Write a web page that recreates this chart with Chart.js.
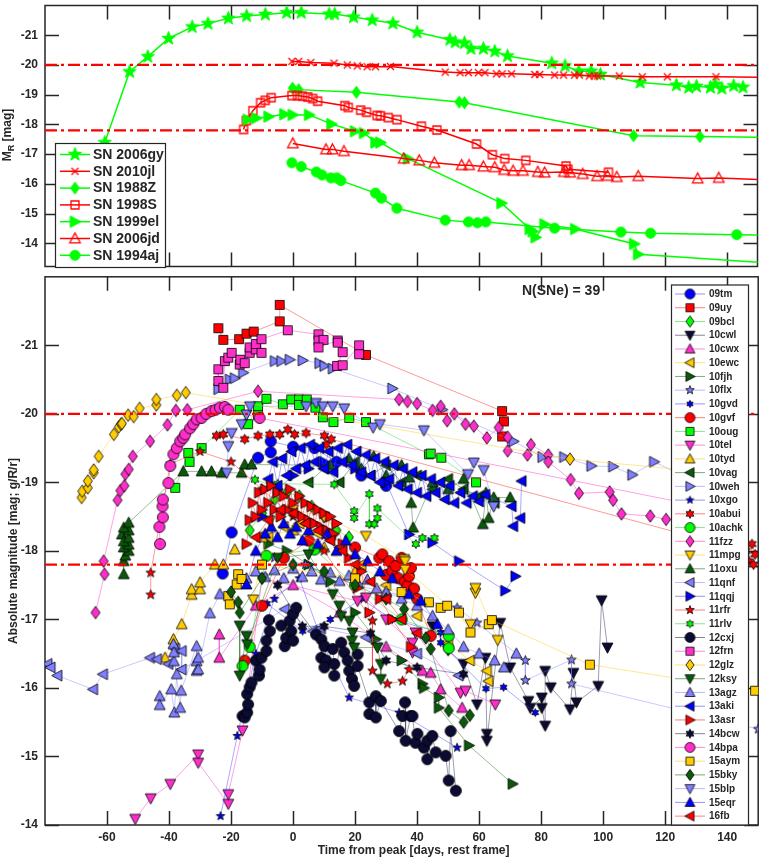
<!DOCTYPE html>
<html>
<head>
<meta charset="utf-8">
<script src="https://cdn.jsdelivr.net/npm/chart.js@4.4.1/dist/chart.umd.min.js"></script>
<style>
html, body { margin: 0; padding: 0; background: #fff; }
#wrap { position: relative; width: 763px; height: 860px; }
canvas { position: absolute; left: 0; }
</style>
</head>
<body>
<div id="wrap">
  <canvas id="topChart" width="763" height="272" style="top:0;width:763px;height:272px"></canvas>
  <canvas id="botChart" width="763" height="588" style="top:272px;width:763px;height:588px"></canvas>
</div>
<script>
// ---- axes ----
const xTicks = [-60, -40, -20, 0, 20, 40, 60, 80, 100, 120, 140];
const yTicks = [-21, -20, -19, -18, -17, -16, -15, -14];
const refMags = [-20, -17.8];

// ---- top panel: comparison SNe [day, mag] ----
const topNames = ['SN 2006gy', 'SN 2010jl', 'SN 1988Z', 'SN 1998S', 'SN 1999el', 'SN 2006jd', 'SN 1994aj'];
const sn2006gy = [[-60.7,-17.39],[-52.7,-19.77],[-46.8,-20.28],[-40.1,-20.89],[-32.5,-21.28],[-27.4,-21.39],[-20.8,-21.57],[-14.9,-21.65],[-8.9,-21.70],[-2.0,-21.76],[2.7,-21.76],[11.7,-21.71],[13.5,-21.71],[19.6,-21.61],[25.6,-21.51],[32.3,-21.40],[40.1,-21.10],[50.7,-20.85],[52.4,-20.77],[55.4,-20.74],[57.5,-20.55],[61.5,-20.55],[65.2,-20.46],[69.3,-20.30],[83.6,-20.06],[87.9,-19.97],[92.3,-19.79],[96.3,-19.79],[99.3,-19.68],[112.1,-19.41],[123.8,-19.32],[127.8,-19.24],[130.3,-19.28],[134.8,-19.24],[136.4,-19.35],[138.5,-19.21],[142.3,-19.30],[145.3,-19.25]];
const sn2010jl = [[-0.3,-20.12],[1.9,-20.12],[5.8,-20.08],[13.3,-20.06],[17.6,-20.0],[20.8,-19.97],[24.0,-19.94],[26.7,-19.94],[31.5,-19.95],[49.2,-19.76],[54,-19.74],[56.7,-19.74],[59.9,-19.74],[62.0,-19.74],[65.7,-19.70],[67.6,-19.70],[70.6,-19.70],[78.1,-19.68],[79.7,-19.68],[84.5,-19.66],[87.4,-19.66],[90.9,-19.66],[92.5,-19.66],[95.7,-19.63],[97.3,-19.63],[98.4,-19.63],[105.4,-19.63],[112.8,-19.60],[120.9,-19.60],[136.6,-19.60],[170,-19.57]];
const sn1988Z = [[-0.1,-19.22],[1.9,-19.17],[20.5,-19.08],[53.7,-18.75],[55.4,-18.73],[110,-17.62],[131.4,-17.59],[170,-17.54]];
const sn1998S = [[-15.9,-17.83],[-15.0,-18.13],[-12.9,-18.46],[-10.4,-18.73],[-8.9,-18.81],[-7.0,-18.90],[-0.3,-18.97],[1.5,-18.97],[3.1,-18.95],[4.8,-18.92],[6.4,-18.87],[8.0,-18.78],[16.8,-18.63],[17.9,-18.57],[21.9,-18.48],[23.8,-18.41],[27.2,-18.30],[28.3,-18.29],[30.8,-18.23],[33.6,-18.16],[41.5,-17.94],[46.5,-17.81],[59.3,-17.34],[64.4,-16.98],[68.4,-16.85],[75.2,-16.79],[88.2,-16.60],[88.8,-16.49],[101.9,-16.39]];
const sn1999el = [[-14.5,-18.16],[-11.8,-18.21],[-7.8,-18.26],[-2.7,-18.34],[0,-18.32],[5.3,-18.32],[12.5,-18.01],[20.1,-17.77],[23.0,-17.71],[26.7,-17.39],[28.3,-17.39],[37.2,-16.85],[67.4,-15.35],[76.5,-14.48],[77.5,-14.40],[78.4,-14.20],[81.3,-14.64],[91.2,-14.48],[110.2,-13.98],[111.5,-13.63],[170,-13.23]];
const sn2006jd = [[0,-17.36],[10.7,-17.16],[12.8,-17.16],[16.5,-17.10],[35.8,-16.85],[40.8,-16.79],[45.7,-16.71],[54.5,-16.63],[56.9,-16.63],[61.5,-16.58],[65.2,-16.56],[68.2,-16.47],[71.1,-16.44],[74.3,-16.44],[79.1,-16.40],[81.3,-16.38],[87.5,-16.40],[89.5,-16.38],[93.6,-16.33],[98.2,-16.26],[101.6,-16.27],[104.6,-16.23],[111.5,-16.26],[130.7,-16.18],[137.5,-16.20],[170,-16.06]];
const sn1994aj = [[-0.3,-16.71],[2.7,-16.58],[7.6,-16.40],[9.4,-16.30],[12.3,-16.20],[14.2,-16.20],[15.5,-16.11],[26.7,-15.69],[28.6,-15.52],[33.6,-15.18],[49.2,-14.78],[56.7,-14.72],[59.6,-14.69],[62.3,-14.72],[84.5,-14.51],[105.9,-14.38],[115.5,-14.34],[143.3,-14.29],[170,-14.26]];
const topData = [sn2006gy, sn2010jl, sn1988Z, sn1998S, sn1999el, sn2006jd, sn1994aj];

// ---- bottom panel: sample SNe [day, mag] ----
const botNames = ['09tm','09uy','09bcl','10cwl','10cwx','10ewc','10fjh','10flx','10gvd','10gvf','10oug','10tel','10tyd','10vag','10weh','10xgo','10abui','10achk','11fzz','11mpg','11oxu','11qnf','11qqj','11rfr','11rlv','12cxj','12frn','12glz','12ksy','13agz','13aki','13asr','14bcw','14bpa','15aym','15bky','15blp','15eqr','16fb'];
const d09tm = [[-22.7,-17.67],[-19.8,-18.27],[-11.3,-19.36],[-7.2,-19.44],[-7.2,-19.6],[0,-19.52],[6.9,-19.5],[14,-19.3],[22,-19.1],[30,-18.95]];
const d09uy = [[-24.1,-21.25],[-22.5,-21.08],[-17.4,-21.09],[-15,-21.17],[-12.7,-21.2],[-4.3,-21.35],[-4.3,-21.59],[23.5,-20.86],[67.4,-20.04],[68,-19.89],[67.4,-19.67]];
const d09bcl = [[-14,-18.3],[-10,-18.55],[-6,-18.75],[-2,-18.85],[2,-18.8],[6,-18.65],[10,-18.5],[14,-18.3],[18,-18.2]];
const d10cwl = [[45,-16.9],[50,-16.55],[55,-16.35],[59.3,-15.76],[62,-16.44],[62.5,-15.33],[62.5,-15.23],[66.8,-16.95],[70,-16.3],[75.9,-15.81],[76.5,-15.71],[80.2,-15.86],[80.2,-15.71],[81.3,-15.45],[81.3,-16.25],[83.1,-16.01],[89.3,-15.69],[90.4,-16.22],[91.4,-15.79],[98.4,-16.03],[99.5,-17.28],[101.4,-16.59]];
const d10cwx = [[-23.8,-16.78],[-23.8,-16.44],[-12,-17.2],[0,-17.5],[15,-17.1],[30,-16.6],[41.7,-16.25],[44.4,-16.22],[47.6,-15.98],[54.5,-15.71]];
const d10ewc = [[-8,-18.2],[-3,-18.35],[2,-18.4],[8,-18.25],[15,-18.05],[22,-17.8],[30,-17.5],[40,-17.05],[50,-16.65],[57,-16.4],[62.5,-16.25],[63,-16.1]];
const d10fjh = [[-8,-18.1],[-2,-18.0],[5,-17.8],[12,-17.55],[20,-17.1],[26.7,-16.71],[35,-16.4],[41.7,-16.06],[42.2,-16.0],[47,-15.86],[47,-15.71],[56.7,-15.16],[70.8,-14.6]];
const d10flx = [[-6,-17.9],[4,-17.8],[20,-17.5],[40,-17.3],[52.9,-17.17],[59.3,-16.95],[74.9,-16.4],[74.9,-16.11],[89.8,-16.41],[89.8,-16.06],[150,-15.4]];
const d10gvd = [[-8.4,-17.23],[3.1,-16.83],[12,-17.0],[22,-17.3],[32,-17.0],[47.6,-16.81],[47.6,-16.66],[62.2,-15.99],[67.9,-16.01],[78.1,-15.64]];
const d10gvf = [[-15.6,-16.4],[-10,-17.2],[-3,-17.9],[5,-18.15],[12,-18.2],[20,-18.05],[27.8,-17.9],[28.8,-17.95],[30,-17.65],[31,-17.85],[32,-17.71],[33.1,-17.78],[34,-17.6],[35,-17.9],[36,-17.55],[36.9,-17.49],[37.4,-17.63],[38,-17.75],[39,-17.45],[40,-17.3],[44.4,-16.76]];
const d10oug = [[-38,-18.92],[-33.8,-19.43],[-33.4,-19.3],[-29.5,-19.5],[-17.2,-20.06],[-14.5,-19.85],[-11.3,-20.11],[-11.3,-19.98],[-8.6,-20.22],[-3.3,-20.14],[-0.6,-20.21],[1.9,-20.21],[1.9,-20.13],[4.4,-20.21],[7.2,-20.09],[9.6,-19.95],[13,-19.88],[18.1,-19.94],[23.5,-19.88],[43.8,-19.41],[44.4,-19.42],[47.8,-19.36],[59,-19.0]];
const d10tel = [[-50.9,-14.09],[-45.9,-14.39],[-39.6,-14.6],[-30.6,-15.03],[-30.6,-14.91],[-20.9,-14.31],[-20.9,-14.45],[-16.3,-15.38],[-10,-17.6],[20.8,-17.27],[23.5,-17.32],[30,-17.0],[38.5,-16.66],[38.5,-16.52],[39.5,-16.81],[54,-15.93],[55.6,-15.96],[65.2,-15.76]];
const d10tyd = [[-41.3,-16.44],[-38.6,-16.71],[-35.9,-16.93],[-32.7,-17.36],[-32.7,-17.44],[-30,-17.44],[-30,-17.54],[-25.2,-17.8],[-22.5,-17.8],[-18.8,-18.02],[-10,-18.2],[0,-18.3],[10,-18.05],[20,-17.7],[30,-17.4]];
const d10vag = [[5,-19.0],[10,-19.2],[15,-19.0],[20,-19.3],[25,-19.1],[30,-19.25],[35,-19.0],[40,-19.1],[45,-18.9],[50,-19.05],[55,-18.9],[60,-18.8],[65,-18.7]];
const d10weh = [[-24.1,-20.36],[-20.4,-20.5],[-18.8,-20.52],[-16.1,-20.6],[-5.9,-20.77],[-3.8,-20.77],[-1.1,-20.79],[3.1,-20.78],[8.5,-20.74],[10.1,-20.7],[12.8,-20.66],[32,-20.37],[48.1,-20.06],[71.1,-19.6],[80.4,-19.37],[87.4,-19.37],[96.2,-19.24],[103.2,-19.23],[109.4,-19.11],[116.4,-19.3],[135,-18.9]];
const d10xgo = [[-23.4,-14.13],[-18,-15.3],[-12,-16.5],[-6,-17.3],[2,-17.6],[10,-16.6],[18.1,-15.86],[34.2,-15.64],[52.9,-15.13]];
const d10abui = [[-24.7,-19.68],[-22.5,-19.7],[-15.6,-19.63],[-11.3,-19.68],[-7.5,-19.7],[-4.3,-19.7],[-1.7,-19.77],[0.5,-19.7],[4.2,-19.72],[10.1,-19.68],[10.7,-19.55],[12.3,-19.63],[146,-18.0],[147,-17.85],[148,-18.1],[149,-17.95],[148.5,-17.8]];
const d10achk = [[-16.3,-16.32],[-14,-16.6],[-8.6,-17.93],[6.9,-18.02],[20,-17.5],[35,-17.0],[50.2,-16.76],[50.2,-16.58]];
const d11fzz = [[-63.7,-17.1],[-60.8,-17.66],[-61.1,-17.85],[-56.6,-18.74],[-55.7,-18.88],[-54.4,-18.95],[-54.1,-19.12],[-53,-19.19],[-51.7,-19.38],[-46.1,-19.6],[-40.5,-19.84],[-37.8,-20.05],[-34.1,-20.06],[-11.3,-20.33],[34.2,-20.21],[36.9,-20.18],[40,-20.15],[45,-20.05],[47.6,-20.11],[49.7,-19.9],[52,-20.0],[55.6,-19.85],[58.3,-19.82],[62.5,-19.65],[66.3,-19.8],[69.2,-19.66],[69.2,-19.46],[75.6,-19.4],[76.7,-19.55],[82.3,-19.4],[82.3,-19.3],[89.5,-19.04],[92.2,-18.84],[102.1,-18.86],[103.2,-18.74],[105.9,-18.54],[115.2,-18.51],[120.3,-18.46],[140,-18.4]];
const d11mpg = [[-12.9,-17.29],[-7.5,-18.44],[0,-18.6],[10,-18.5],[23.5,-18.22],[35.8,-17.88],[36.1,-17.85],[36.1,-17.73],[57.2,-16.93],[58.8,-17.39],[58.8,-17.46],[66,-16.7]];
const d11oxu = [[-55.2,-18.24],[-54.6,-17.66],[-54.6,-17.85],[-54.1,-17.93],[-53,-18.0],[-54.6,-18.05],[-53,-18.09],[-54.6,-18.14],[-53,-18.19],[-53,-18.3],[-54.6,-18.34],[-53,-18.41],[-35.4,-19.16],[-29.5,-19.16],[-26.3,-19.16],[-23,-19.14],[-16.6,-19.14],[-15.6,-19.26],[-13.4,-19.26],[12,-19.25],[18,-19.35],[22,-19.2],[26,-19.38],[30,-19.1],[35,-19.25],[37.5,-19.07],[38.1,-18.7],[38.7,-18.34],[45,-19.0],[50,-18.9],[55,-19.05],[61.2,-18.39],[62.2,-18.85],[63.1,-18.48],[64.7,-18.78],[70,-18.78]];
const d11qnf = [[-79.2,-16.35],[-78.2,-16.3],[-76,-16.18],[-64.5,-15.98],[-61.3,-16.2],[-46.1,-16.44],[-43.9,-16.42],[-40.2,-16.35],[-38,-16.57],[-35.9,-16.54],[-35.9,-16.27],[-2.7,-17.15],[6.4,-16.83],[9,-16.87],[23.5,-16.74],[40,-16.5],[53.4,-16.18]];
const d11qqj = [[-10,-18.5],[-5,-18.9],[0,-19.1],[5,-19.2],[10,-19.3],[20,-19.2],[30,-19.0],[37.4,-18.24],[44.9,-18.12],[53.5,-17.85],[68.4,-17.42],[71.7,-17.63]];
const d11rfr = [[-45.9,-17.36],[-45.9,-17.68],[-39.6,-19.27],[-30,-19.45],[-20,-19.3],[-10,-18.9],[0,-18.5],[10,-18.0],[25.6,-16.98],[25.6,-16.25],[30.4,-16.06],[35.3,-16.1],[37.4,-16.27]];
const d11rlv = [[-12.3,-19.04],[-7.5,-18.97],[-4.9,-18.98],[13.3,-18.97],[19.7,-18.58],[19.7,-18.48],[24.6,-18.83],[24.6,-18.39],[26.2,-18.39],[27.2,-18.48],[27.2,-18.62],[39.6,-18.1],[41.7,-18.19],[45.6,-18.19]];
const d12cxj = [[-16.3,-15.59],[-15.6,-15.57],[-14.8,-15.64],[-14.5,-15.76],[-14.8,-15.91],[-14,-16.01],[-13.4,-16.08],[-12,-16.4],[-11,-16.18],[-10.8,-16.27],[-10.2,-16.44],[-8.6,-16.54],[-8.6,-16.69],[-7.8,-16.99],[-7.5,-16.83],[-3.8,-16.91],[-2.7,-16.61],[-2.2,-16.73],[-1.1,-16.98],[-0.6,-16.83],[0,-16.69],[0,-17.08],[1,-17.17],[7.4,-16.78],[9.1,-16.71],[9.1,-16.44],[10.1,-16.61],[10.7,-16.4],[10.1,-16.3],[12.8,-16.57],[13.3,-16.35],[13.3,-16.18],[15.5,-16.66],[16.5,-16.52],[17.6,-16.4],[18.1,-16.25],[19,-16.13],[19.7,-16.03],[20.8,-16.49],[20.8,-16.32],[24.6,-15.79],[24.6,-15.62],[26.7,-15.88],[26.7,-15.57],[28.3,-15.81],[34.2,-15.37],[35.3,-15.59],[36.1,-15.79],[36.3,-15.23],[37.9,-15.59],[38.5,-15.59],[39.5,-15.2],[40.1,-15.33],[42.2,-15.13],[43.3,-15.23],[43.3,-14.96],[44.9,-15.3],[46,-15.06],[49.2,-15.01],[50.2,-14.65],[50.8,-15.37],[52.5,-14.5]];
const d12frn = [[-24.1,-20.65],[-24.1,-20.48],[-22.5,-20.38],[-22,-20.77],[-20.9,-20.82],[-19.8,-20.89],[-17.2,-20.72],[-17,-20.79],[-15.6,-20.74],[-14,-20.89],[-14,-20.97],[-12,-20.94],[-12,-21.02],[-10.2,-20.89],[-10.2,-21.09],[-1.7,-21.22],[8.2,-21.16],[8.2,-21.07],[9.8,-21.08],[8.2,-20.97],[14.4,-21.07],[14.4,-21.04],[16,-20.9],[14.2,-20.7],[16,-20.71],[21.3,-21.0],[21.3,-20.87]];
const d12glz = [[-68.2,-18.78],[-68,-18.87],[-66.2,-18.92],[-66.2,-19.02],[-64.3,-19.14],[-64.3,-19.18],[-62.7,-19.38],[-57.8,-19.7],[-56.2,-19.81],[-55.5,-19.85],[-55.2,-19.86],[-53.2,-19.98],[-51.4,-19.96],[-49.5,-20.08],[-44.1,-20.13],[-44.1,-20.21],[-37.5,-20.27],[-34.6,-20.31],[89.3,-19.34],[145,-19.1]];
const d12ksy = [[-17.2,-16.91],[-17.2,-16.18],[-15,-16.76],[-14.8,-16.64],[-5,-17.9],[5,-17.95],[12.8,-17.37],[14.9,-17.2],[15.5,-17.05],[18.1,-16.98],[19.2,-16.81],[19,-16.69],[19.7,-16.59],[27.2,-16.59],[28.3,-16.35],[28.3,-16.13]];
const d13agz = [[-43,-15.88],[-43,-15.75],[-39.3,-15.98],[-38.3,-15.64],[-37.5,-16.2],[-38.4,-16.39],[-38.6,-16.64],[-38.4,-16.52],[-36.4,-15.71],[-36.1,-15.96],[-31.1,-16.61],[-31.1,-16.39],[-31.1,-16.25],[-30.6,-16.44],[-30.6,-16.27],[-26.8,-17.09],[-23.6,-17.37],[-15,-17.6],[-12,-17.7],[-9,-17.62],[-6,-17.72],[-3,-17.6],[0,-17.74],[3,-17.62],[6,-17.7],[9,-17.58],[12,-17.68],[15,-17.56],[18,-17.64],[21,-17.52],[24,-17.58],[27,-17.45],[30,-17.4],[35,-17.3],[40,-17.2],[45,-17.05],[50,-16.85],[55,-16.6],[60,-16.5],[65,-16.4],[68,-16.3],[72,-16.5]];
const d13aki = [[-8,-19.05],[-6.5,-19.3],[-5,-18.95],[-3.5,-19.35],[-2,-19.1],[-0.5,-19.45],[1,-19.2],[2.5,-19.5],[4,-19.25],[5.5,-19.55],[7,-19.3],[8.5,-19.5],[10,-19.2],[11.5,-19.45],[13,-19.15],[14.5,-19.5],[16,-19.3],[17.5,-19.55],[19,-19.25],[20.5,-19.45],[22,-19.15],[23.5,-19.4],[25,-19.1],[26.5,-19.35],[28,-19.0],[29.5,-19.3],[31,-19.05],[32.5,-19.25],[34,-18.95],[35.5,-19.2],[37,-18.9],[38.5,-19.15],[40,-18.85],[41.5,-19.1],[43,-18.8],[44.5,-19.05],[46,-18.85],[47.5,-19.0],[49,-18.75],[50.5,-18.95],[52,-18.7],[54,-18.85],[56,-18.7],[58,-18.8],[60,-18.72],[62,-18.82],[70.5,-18.65],[71,-18.36],[73.3,-18.48],[73.7,-19.02]];
const d13asr = [[-15,-18.1],[-14,-18.45],[-13,-18.7],[-12,-18.5],[-11,-18.85],[-10,-18.6],[-9,-18.9],[-8,-18.7],[-7,-18.95],[-6,-18.6],[-5,-18.85],[-4,-18.5],[-3,-18.8],[-2,-18.6],[-1,-18.9],[0,-18.7],[1,-18.55],[2,-18.8],[3,-18.5],[4,-18.7],[5,-18.45],[6,-18.65],[7,-18.4],[8,-18.6],[9,-18.35],[10,-18.55],[11,-18.3],[12,-18.5],[13,-18.25],[14,-18.4],[16,-18.1],[18,-17.9],[20.8,-17.46],[22,-17.7],[24.6,-17.1],[28,-17.3],[32,-17.0],[38,-16.6]];
const d14bcw = [[-5,-17.5],[3,-16.9],[10,-16.9],[25,-16.8],[30,-16.4],[40,-16.3],[55,-16.2]];
const d14bpa = [[-42.9,-18.1],[-43.1,-18.35],[-42,-18.49],[-42.1,-18.65],[-42,-18.75],[-40.2,-18.99],[-39.6,-19.24],[-38.6,-19.41],[-37.5,-19.5],[-36.4,-19.6],[-35.4,-19.65],[-34.8,-19.7],[-33.2,-19.79],[-32.2,-19.85],[-31.1,-19.92],[-29.5,-19.94],[-28,-20.0],[-26.3,-20.04],[-25,-20.06],[-23.6,-20.09],[-22,-20.1],[-20.9,-20.06],[-10.8,-19.94],[145,-18.53]];
const d15aym = [[-20.9,-17.34],[-20.4,-17.22],[-18.2,-17.51],[-17.7,-17.66],[-16.6,-17.59],[-10,-17.8],[20,-17.6],[35,-17.4],[43.8,-17.25],[47.6,-17.17],[49.7,-17.2],[53.5,-17.1],[57.2,-16.81],[63.1,-16.93],[64.1,-16.99],[95.7,-16.34],[149,-15.96]];
const d15bky = [[-20,-17.4],[-17.7,-17.25],[-17.2,-17.1],[-10,-17.6],[0,-17.8],[10,-17.7],[20,-17.5],[30,-17.3],[35.8,-17.15],[42.8,-16.73],[44.4,-16.57],[50.2,-15.67],[55,-15.5],[57,-15.6]];
const d15blp = [[-21.4,-19.14],[-20.9,-19.53],[-19.8,-19.72],[-16.6,-19.85],[-15,-19.99],[-13.9,-20.11],[4.2,-20.11],[7.4,-20.16],[9.6,-20.11],[12.8,-20.11],[16.5,-20.08],[25.8,-19.8],[28,-19.85],[42.2,-19.76],[56.4,-19.12],[58.3,-19.29],[61.5,-19.18],[64.7,-18.65]];
const d15eqr = [[-15,-17.51],[-12,-18.0],[-9,-18.25],[-7,-18.35],[-5,-18.2],[-3,-18.4],[-1,-18.25],[1,-18.35],[3,-18.15],[5,-18.3],[8,-18.1],[11,-18.25],[14,-18.0],[17,-18.15],[20,-17.95],[24,-17.85],[28,-17.7],[32,-17.6],[37.4,-17.37],[41.2,-17.27],[46.5,-16.93]];
const d16fb = [[-12,-18.2],[-8,-18.45],[-4,-18.6],[0,-18.55],[4,-18.4],[8,-18.3],[12,-18.15],[16,-18.0],[20,-17.8],[25,-17.55],[30,-17.3],[35,-17.0],[40,-16.8]];
const botData = [d09tm,d09uy,d09bcl,d10cwl,d10cwx,d10ewc,d10fjh,d10flx,d10gvd,d10gvf,d10oug,d10tel,d10tyd,d10vag,d10weh,d10xgo,d10abui,d10achk,d11fzz,d11mpg,d11oxu,d11qnf,d11qqj,d11rfr,d11rlv,d12cxj,d12frn,d12glz,d12ksy,d13agz,d13aki,d13asr,d14bcw,d14bpa,d15aym,d15bky,d15blp,d15eqr,d16fb];

// ---- styles ----
const palette = {
  blue:    ['#0000ff', 'rgba(60,60,255,0.55)'],
  red:     ['#ff0000', 'rgba(255,40,40,0.6)'],
  green:   ['#00ff00', 'rgba(40,210,40,0.55)'],
  navy:    ['#0b0b33', 'rgba(30,30,70,0.55)'],
  magenta: ['#ff2ecb', 'rgba(255,60,200,0.6)'],
  gold:    ['#ffcc00', 'rgba(250,200,0,0.55)'],
  dkgreen: ['#0a5a0a', 'rgba(20,100,20,0.55)'],
  violet:  ['#7f7fff', 'rgba(120,120,255,0.5)']
};
const botShapes = ['circle','square','diamond','tri-down','tri-up','tri-left','tri-right','pentagram','hexagram','circle','square','tri-down','tri-up','tri-left','tri-right','pentagram','hexagram','circle','diamond','tri-down','tri-up','tri-left','tri-right','pentagram','hexagram','circle','square','diamond','tri-down','tri-up','tri-left','tri-right','hexagram','circle','square','diamond','tri-down','tri-up','tri-left'];
const botColors = ['blue','red','green','navy','magenta','gold','dkgreen','violet','blue','red','green','magenta','gold','dkgreen','violet','blue','red','green','magenta','gold','dkgreen','violet','blue','red','green','navy','magenta','gold','dkgreen','violet','blue','red','navy','magenta','gold','dkgreen','violet','blue','red'];
const shapeSize = { circle: 11, square: 9, diamond: 12.5, 'tri-up': 11.5, 'tri-down': 11.5, 'tri-left': 11.5, 'tri-right': 11.5, pentagram: 11, hexagram: 10 };
const smallOnes = { '10gvd': 8, '10xgo': 9, '11rlv': 9, '11rfr': 10, '10flx': 10, '14bcw': 10 };

const G = '#00ff00', R = '#ff0000';
const topStyle = [
  { shape: 'pentagram', fill: G, edge: G, size: 14, color: G },
  { shape: 'x', fill: null, edge: R, size: 7, color: R },
  { shape: 'diamond', fill: G, edge: G, size: 12, color: G },
  { shape: 'square', fill: null, edge: R, size: 8, color: R },
  { shape: 'tri-right', fill: G, edge: G, size: 12, color: G },
  { shape: 'tri-up', fill: null, edge: R, size: 11, color: R },
  { shape: 'circle', fill: G, edge: G, size: 10, color: G }
];

const FONT = '"Liberation Sans", Arial, Helvetica, sans-serif';
const INK = '#262626';

function makeMarker(shape, fill, edge, size, lw) {
  const S = Math.ceil(size + 2 * lw + 3);
  const c = document.createElement('canvas');
  c.width = S; c.height = S;
  const g = c.getContext('2d');
  const m = S / 2, r = size / 2;
  g.beginPath();
  if (shape === 'circle') {
    g.arc(m, m, r, 0, Math.PI * 2);
  } else if (shape === 'square') {
    g.rect(m - r, m - r, size, size);
  } else if (shape === 'diamond') {
    g.moveTo(m, m - r); g.lineTo(m + r * 0.72, m); g.lineTo(m, m + r); g.lineTo(m - r * 0.72, m); g.closePath();
  } else if (shape.indexOf('tri') === 0) {
    const rot = { 'tri-up': 0, 'tri-right': 90, 'tri-down': 180, 'tri-left': 270 }[shape] * Math.PI / 180;
    [[0, -r], [r * 0.95, r * 0.78], [-r * 0.95, r * 0.78]].forEach(([px, py], k) => {
      const X = m + px * Math.cos(rot) - py * Math.sin(rot);
      const Y = m + px * Math.sin(rot) + py * Math.cos(rot);
      if (k) g.lineTo(X, Y); else g.moveTo(X, Y);
    });
    g.closePath();
  } else if (shape === 'pentagram' || shape === 'hexagram') {
    const n = shape === 'pentagram' ? 5 : 6;
    const ri = shape === 'pentagram' ? r * 0.42 : r * 0.56;
    for (let k = 0; k < 2 * n; k++) {
      const a = -Math.PI / 2 + k * Math.PI / n;
      const rr = k % 2 ? ri : r;
      const X = m + rr * Math.cos(a), Y = m + rr * Math.sin(a);
      if (k) g.lineTo(X, Y); else g.moveTo(X, Y);
    }
    g.closePath();
  } else if (shape === 'x') {
    g.moveTo(m - r, m - r); g.lineTo(m + r, m + r); g.moveTo(m + r, m - r); g.lineTo(m - r, m + r);
  }
  if (fill) { g.fillStyle = fill; g.fill(); }
  if (edge) { g.lineWidth = lw; g.strokeStyle = edge; g.stroke(); }
  return c;
}

const toXY = arr => arr.map(p => ({ x: p[0], y: p[1] }));

// top datasets
const topImgs = topStyle.map(s => makeMarker(s.shape, s.fill, s.edge, s.size, s.fill ? 1 : 1.3));
const topSets = topData.map((d, i) => ({
  label: topNames[i],
  data: toXY(d),
  showLine: true,
  borderColor: topStyle[i].color,
  borderWidth: 1.5,
  pointStyle: topImgs[i],
  pointRadius: 4,
  order: topData.length - i
}));

// bottom datasets
const botImgs = botNames.map((n, i) => {
  const sz = smallOnes[n] || shapeSize[botShapes[i]];
  return makeMarker(botShapes[i], palette[botColors[i]][0], '#000', sz, 0.8);
});
const legImgs = botNames.map((n, i) => {
  const sz = (smallOnes[n] || shapeSize[botShapes[i]]) * 0.9;
  return makeMarker(botShapes[i], palette[botColors[i]][0], '#000', sz, 0.8);
});
const botSets = botData.map((d, i) => ({
  label: botNames[i],
  data: toXY(d),
  showLine: true,
  borderColor: palette[botColors[i]][1],
  borderWidth: 0.8,
  pointStyle: botImgs[i],
  pointRadius: 4,
  order: botData.length - i
}));

function frameAndTicks(chart) {
  const { ctx, chartArea: a, scales: { x, y } } = chart;
  ctx.save();
  ctx.strokeStyle = INK;
  ctx.lineWidth = 1.5;
  ctx.beginPath();
  const L = 14;
  xTicks.forEach(v => {
    const px = Math.round(x.getPixelForValue(v)) + 0.5;
    ctx.moveTo(px, a.bottom); ctx.lineTo(px, a.bottom - L);
    ctx.moveTo(px, a.top); ctx.lineTo(px, a.top + L);
  });
  yTicks.forEach(v => {
    const py = Math.round(y.getPixelForValue(v)) + 0.5;
    ctx.moveTo(a.left, py); ctx.lineTo(a.left + L, py);
    ctx.moveTo(a.right, py); ctx.lineTo(a.right - L, py);
  });
  ctx.stroke();
  ctx.strokeRect(a.left, a.top, a.right - a.left, a.bottom - a.top);
  ctx.fillStyle = INK;
  ctx.font = 'bold 12px ' + FONT;
  ctx.textAlign = 'right';
  ctx.textBaseline = 'middle';
  yTicks.forEach(v => ctx.fillText(String(v), a.left - 7, y.getPixelForValue(v)));
  ctx.restore();
}

function refLines(chart) {
  const { ctx, chartArea: a, scales: { y } } = chart;
  ctx.save();
  ctx.beginPath();
  ctx.rect(a.left, a.top, a.right - a.left, a.bottom - a.top);
  ctx.clip();
  ctx.strokeStyle = '#ff0000';
  ctx.lineWidth = 2.3;
  ctx.setLineDash([12, 4, 3, 4]);
  refMags.forEach(v => {
    const py = y.getPixelForValue(v);
    ctx.beginPath(); ctx.moveTo(a.left, py); ctx.lineTo(a.right, py); ctx.stroke();
  });
  ctx.restore();
}

const topPlugin = {
  id: 'topDeco',
  beforeDatasetsDraw(chart) { frameAndTicks(chart); },
  afterDatasetsDraw(chart) { refLines(chart); },
  afterDraw(chart) {
    const ctx = chart.ctx;
    ctx.save();
    // y title with subscript
    ctx.translate(8, 135);
    ctx.rotate(-Math.PI / 2);
    ctx.fillStyle = INK;
    ctx.textBaseline = 'middle';
    ctx.font = 'bold 12px ' + FONT;
    const wM = ctx.measureText('M').width;
    ctx.font = 'bold 9px ' + FONT;
    const wR = ctx.measureText('R').width;
    ctx.font = 'bold 12px ' + FONT;
    const wRest = ctx.measureText(' [mag]').width;
    const sx = -(wM + wR + wRest) / 2;
    ctx.textAlign = 'left';
    ctx.fillText('M', sx, 0);
    ctx.font = 'bold 9px ' + FONT;
    ctx.fillText('R', sx + wM, 4);
    ctx.font = 'bold 12px ' + FONT;
    ctx.fillText(' [mag]', sx + wM + wR, 0);
    ctx.restore();

    // legend
    ctx.save();
    const bx = 55, by = 143, bw = 110, bh = 124;
    ctx.fillStyle = '#fff';
    ctx.fillRect(bx, by, bw, bh);
    ctx.strokeStyle = INK; ctx.lineWidth = 1.2;
    ctx.strokeRect(bx + 0.5, by + 0.5, bw, bh);
    ctx.font = 'bold 14px ' + FONT;
    ctx.textBaseline = 'middle';
    ctx.textAlign = 'left';
    topNames.forEach((n, i) => {
      const yy = 154.5 + i * 16.8;
      ctx.strokeStyle = topStyle[i].color; ctx.lineWidth = 1.5;
      ctx.beginPath(); ctx.moveTo(60, yy); ctx.lineTo(90, yy); ctx.stroke();
      const im = topImgs[i];
      ctx.drawImage(im, 75 - im.width / 2, yy - im.height / 2);
      ctx.fillStyle = INK;
      ctx.fillText(n, 93, yy + 0.5);
    });
    ctx.restore();
  }
};

const botPlugin = {
  id: 'botDeco',
  beforeDatasetsDraw(chart) { frameAndTicks(chart); },
  afterDatasetsDraw(chart) { refLines(chart); },
  afterDraw(chart) {
    const { ctx, chartArea: a, scales: { x } } = chart;
    ctx.save();
    ctx.fillStyle = INK;
    ctx.font = 'bold 12px ' + FONT;
    ctx.textAlign = 'center';
    ctx.textBaseline = 'middle';
    xTicks.forEach(v => ctx.fillText(String(v), x.getPixelForValue(v), a.bottom + 13));
    ctx.fillText('Time from peak [days, rest frame]', (a.left + a.right) / 2 + 12, a.bottom + 26);
    ctx.save();
    ctx.translate(14, (a.top + a.bottom) / 2);
    ctx.rotate(-Math.PI / 2);
    ctx.fillText('Absolute magnitude [mag; g/R/r]', 0, 0);
    ctx.restore();
    ctx.font = 'bold 14px ' + FONT;
    ctx.textAlign = 'left';
    ctx.fillText('N(SNe) = 39', 522, 19);

    // legend
    const bx = 671.5, by = 13, bw = 77, bh = a.bottom - 13;
    ctx.fillStyle = '#fff';
    ctx.fillRect(bx, by, bw, bh);
    ctx.strokeStyle = INK; ctx.lineWidth = 1.2;
    ctx.strokeRect(bx, by, bw, bh);
    ctx.font = 'bold 10px ' + FONT;
    botNames.forEach((n, i) => {
      const yy = 22 + i * 13.74;
      ctx.strokeStyle = palette[botColors[i]][1]; ctx.lineWidth = 1;
      ctx.beginPath(); ctx.moveTo(675, yy); ctx.lineTo(705, yy); ctx.stroke();
      const im = legImgs[i];
      ctx.drawImage(im, 690 - im.width / 2, yy - im.height / 2);
      ctx.fillStyle = INK;
      ctx.fillText(n, 709, yy + 0.5);
    });
    ctx.restore();
  }
};

function baseOptions(yMin, yMax, pad) {
  return {
    responsive: false,
    animation: false,
    layout: { padding: pad },
    plugins: { legend: { display: false }, tooltip: { enabled: false } },
    elements: { line: { tension: 0 } },
    scales: {
      x: { type: 'linear', min: -80, max: 150, display: false },
      y: { type: 'linear', min: yMin, max: yMax, reverse: true, display: false }
    }
  };
}

Chart.defaults.font.family = FONT;

new Chart(document.getElementById('topChart').getContext('2d'), {
  type: 'scatter',
  data: { datasets: topSets },
  options: baseOptions(-22, -13.22, { left: 45, right: 4, top: 1, bottom: 3 }),
  plugins: [topPlugin]
});

new Chart(document.getElementById('botChart').getContext('2d'), {
  type: 'scatter',
  data: { datasets: botSets },
  options: baseOptions(-22, -14, { left: 45, right: 4, top: 3, bottom: 35 }),
  plugins: [botPlugin]
});
</script>
</body>
</html>
